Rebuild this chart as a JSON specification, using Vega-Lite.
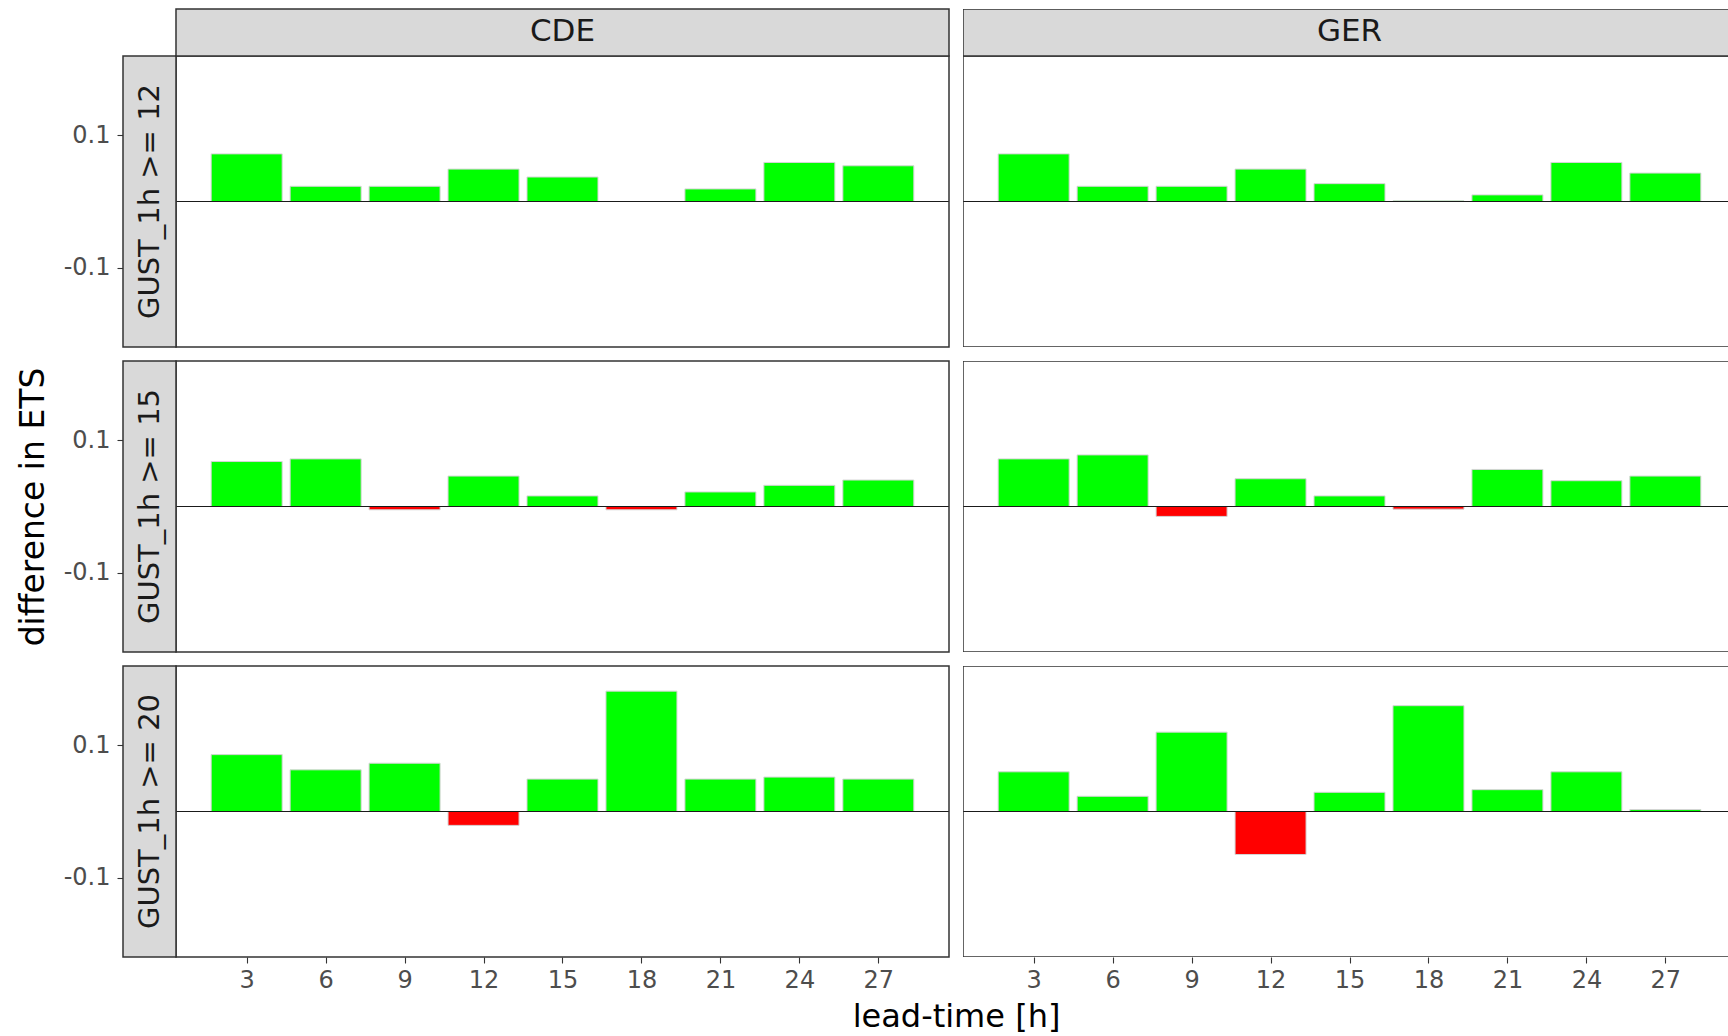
{
  "$schema": "https://vega.github.io/schema/vega-lite/v6.json",
  "padding": {"left": 16, "top": 8, "right": 0, "bottom": 0},
  "background": "white",
  "bounds": "flush",
  "columns": 2,
  "spacing": 14,
  "datasets": {
    "bars": [
      {"region": "CDE", "threshold": "GUST_1h >= 12", "lead": 3, "value": 0.072},
      {"region": "CDE", "threshold": "GUST_1h >= 12", "lead": 6, "value": 0.023},
      {"region": "CDE", "threshold": "GUST_1h >= 12", "lead": 9, "value": 0.023},
      {"region": "CDE", "threshold": "GUST_1h >= 12", "lead": 12, "value": 0.049},
      {"region": "CDE", "threshold": "GUST_1h >= 12", "lead": 15, "value": 0.037},
      {"region": "CDE", "threshold": "GUST_1h >= 12", "lead": 18, "value": 0.0},
      {"region": "CDE", "threshold": "GUST_1h >= 12", "lead": 21, "value": 0.019},
      {"region": "CDE", "threshold": "GUST_1h >= 12", "lead": 24, "value": 0.059},
      {"region": "CDE", "threshold": "GUST_1h >= 12", "lead": 27, "value": 0.054},
      {"region": "GER", "threshold": "GUST_1h >= 12", "lead": 3, "value": 0.072},
      {"region": "GER", "threshold": "GUST_1h >= 12", "lead": 6, "value": 0.023},
      {"region": "GER", "threshold": "GUST_1h >= 12", "lead": 9, "value": 0.023},
      {"region": "GER", "threshold": "GUST_1h >= 12", "lead": 12, "value": 0.049},
      {"region": "GER", "threshold": "GUST_1h >= 12", "lead": 15, "value": 0.027},
      {"region": "GER", "threshold": "GUST_1h >= 12", "lead": 18, "value": 0.001},
      {"region": "GER", "threshold": "GUST_1h >= 12", "lead": 21, "value": 0.010},
      {"region": "GER", "threshold": "GUST_1h >= 12", "lead": 24, "value": 0.059},
      {"region": "GER", "threshold": "GUST_1h >= 12", "lead": 27, "value": 0.043},
      {"region": "CDE", "threshold": "GUST_1h >= 15", "lead": 3, "value": 0.068},
      {"region": "CDE", "threshold": "GUST_1h >= 15", "lead": 6, "value": 0.072},
      {"region": "CDE", "threshold": "GUST_1h >= 15", "lead": 9, "value": -0.005},
      {"region": "CDE", "threshold": "GUST_1h >= 15", "lead": 12, "value": 0.046},
      {"region": "CDE", "threshold": "GUST_1h >= 15", "lead": 15, "value": 0.016},
      {"region": "CDE", "threshold": "GUST_1h >= 15", "lead": 18, "value": -0.005},
      {"region": "CDE", "threshold": "GUST_1h >= 15", "lead": 21, "value": 0.022},
      {"region": "CDE", "threshold": "GUST_1h >= 15", "lead": 24, "value": 0.032},
      {"region": "CDE", "threshold": "GUST_1h >= 15", "lead": 27, "value": 0.040},
      {"region": "GER", "threshold": "GUST_1h >= 15", "lead": 3, "value": 0.072},
      {"region": "GER", "threshold": "GUST_1h >= 15", "lead": 6, "value": 0.078},
      {"region": "GER", "threshold": "GUST_1h >= 15", "lead": 9, "value": -0.015},
      {"region": "GER", "threshold": "GUST_1h >= 15", "lead": 12, "value": 0.042},
      {"region": "GER", "threshold": "GUST_1h >= 15", "lead": 15, "value": 0.016},
      {"region": "GER", "threshold": "GUST_1h >= 15", "lead": 18, "value": -0.004},
      {"region": "GER", "threshold": "GUST_1h >= 15", "lead": 21, "value": 0.056},
      {"region": "GER", "threshold": "GUST_1h >= 15", "lead": 24, "value": 0.039},
      {"region": "GER", "threshold": "GUST_1h >= 15", "lead": 27, "value": 0.046},
      {"region": "CDE", "threshold": "GUST_1h >= 20", "lead": 3, "value": 0.086},
      {"region": "CDE", "threshold": "GUST_1h >= 20", "lead": 6, "value": 0.063},
      {"region": "CDE", "threshold": "GUST_1h >= 20", "lead": 9, "value": 0.073},
      {"region": "CDE", "threshold": "GUST_1h >= 20", "lead": 12, "value": -0.021},
      {"region": "CDE", "threshold": "GUST_1h >= 20", "lead": 15, "value": 0.049},
      {"region": "CDE", "threshold": "GUST_1h >= 20", "lead": 18, "value": 0.182},
      {"region": "CDE", "threshold": "GUST_1h >= 20", "lead": 21, "value": 0.049},
      {"region": "CDE", "threshold": "GUST_1h >= 20", "lead": 24, "value": 0.052},
      {"region": "CDE", "threshold": "GUST_1h >= 20", "lead": 27, "value": 0.049},
      {"region": "GER", "threshold": "GUST_1h >= 20", "lead": 3, "value": 0.060},
      {"region": "GER", "threshold": "GUST_1h >= 20", "lead": 6, "value": 0.023},
      {"region": "GER", "threshold": "GUST_1h >= 20", "lead": 9, "value": 0.120},
      {"region": "GER", "threshold": "GUST_1h >= 20", "lead": 12, "value": -0.065},
      {"region": "GER", "threshold": "GUST_1h >= 20", "lead": 15, "value": 0.029},
      {"region": "GER", "threshold": "GUST_1h >= 20", "lead": 18, "value": 0.160},
      {"region": "GER", "threshold": "GUST_1h >= 20", "lead": 21, "value": 0.033},
      {"region": "GER", "threshold": "GUST_1h >= 20", "lead": 24, "value": 0.060},
      {"region": "GER", "threshold": "GUST_1h >= 20", "lead": 27, "value": 0.003}
    ]
  },
  "concat": [
    {
      "width": 826, "height": 338,
      "layer": [
        {
          "data": {"name": "bars"},
          "transform": [{"filter": "datum.region === 'CDE' && datum.threshold === 'GUST_1h >= 12'"}],
          "mark": {"type": "bar", "width": 71, "stroke": "#D5D5D5", "strokeWidth": 1},
          "encoding": {
            "x": {"field": "lead", "type": "quantitative", "scale": {"domain": [-1.6987, 29.685], "nice": false, "zero": false, "padding": 0}, "axis": null},
            "y": {"field": "value", "type": "quantitative", "scale": {"domain": [-0.22, 0.29107], "nice": false, "zero": false, "padding": 0}, "axis": {"values": [-0.1, 0.1], "format": ".1f", "labelExpr": "replace(datum.label, '\u2212', '-')", "title": null}},
            "y2": {"datum": 0},
            "color": {"condition": {"test": "datum.value < 0", "value": "#FF0000"}, "value": "#00FF00"}
          }
        },
        {
          "data": {"values": [{}]},
          "mark": {"type": "rule", "color": "#1A1A1A", "strokeWidth": 1.2},
          "encoding": {"x": {"datum": 0.315, "type": "quantitative", "axis": null}, "x2": {"datum": 29.685}, "y": {"datum": 0, "type": "quantitative"}}
        },
        {
          "data": {"values": [{}]},
          "mark": {"type": "rect", "filled": false, "stroke": "#333333", "strokeWidth": 1.5},
          "encoding": {"x": {"datum": 0.315, "type": "quantitative", "axis": null}, "x2": {"datum": 29.685}, "y": {"datum": -0.22, "type": "quantitative"}, "y2": {"datum": 0.22}}
        },
        {
          "data": {"values": [{}]},
          "mark": {"type": "rect", "fill": "#D9D9D9", "stroke": "#333333", "strokeWidth": 1.5},
          "encoding": {"x": {"datum": -1.6987, "type": "quantitative", "axis": null}, "x2": {"datum": 0.315}, "y": {"datum": -0.22, "type": "quantitative"}, "y2": {"datum": 0.22}}
        },
        {
          "data": {"values": [{"label": "GUST_1h >= 12"}]},
          "mark": {"type": "text", "angle": 270, "align": "center", "baseline": "middle", "fontSize": 29, "font": "DejaVu Sans", "color": "#1A1A1A"},
          "encoding": {"x": {"datum": -0.6918, "type": "quantitative", "axis": null}, "y": {"datum": 0, "type": "quantitative"}, "text": {"field": "label"}}
        },
        {
          "data": {"values": [{}]},
          "mark": {"type": "rect", "fill": "#D9D9D9", "stroke": "#333333", "strokeWidth": 1.5},
          "encoding": {"x": {"datum": 0.315, "type": "quantitative", "axis": null}, "x2": {"datum": 29.685}, "y": {"datum": 0.22, "type": "quantitative"}, "y2": {"datum": 0.29107}}
        },
        {
          "data": {"values": [{"label": "CDE"}]},
          "mark": {"type": "text", "align": "center", "baseline": "middle", "fontSize": 31, "font": "DejaVu Sans", "color": "#1A1A1A"},
          "encoding": {"x": {"datum": 15, "type": "quantitative", "axis": null}, "y": {"datum": 0.25554, "type": "quantitative"}, "text": {"field": "label"}}
        }
      ]
    },
    {
      "width": 766, "height": 338,
      "layer": [
        {
          "data": {"name": "bars"},
          "transform": [{"filter": "datum.region === 'GER' && datum.threshold === 'GUST_1h >= 12'"}],
          "mark": {"type": "bar", "width": 71, "stroke": "#D5D5D5", "strokeWidth": 1},
          "encoding": {
            "x": {"field": "lead", "type": "quantitative", "scale": {"domain": [0.315, 29.418], "nice": false, "zero": false, "padding": 0}, "axis": null},
            "y": {"field": "value", "type": "quantitative", "scale": {"domain": [-0.22, 0.29107], "nice": false, "zero": false, "padding": 0}, "axis": null},
            "y2": {"datum": 0},
            "color": {"condition": {"test": "datum.value < 0", "value": "#FF0000"}, "value": "#00FF00"}
          }
        },
        {
          "data": {"values": [{}]},
          "mark": {"type": "rule", "color": "#1A1A1A", "strokeWidth": 1.2},
          "encoding": {"x": {"datum": 0.315, "type": "quantitative", "axis": null}, "x2": {"datum": 29.418}, "y": {"datum": 0, "type": "quantitative", "axis": null}}
        },
        {
          "data": {"values": [{}]},
          "mark": {"type": "rect", "filled": false, "stroke": "#333333", "strokeWidth": 1.5, "clip": true},
          "encoding": {"x": {"datum": 0.315, "type": "quantitative", "axis": null}, "x2": {"datum": 29.685}, "y": {"datum": -0.22, "type": "quantitative", "axis": null}, "y2": {"datum": 0.22}}
        },
        {
          "data": {"values": [{}]},
          "mark": {"type": "rect", "fill": "#D9D9D9", "stroke": "#333333", "strokeWidth": 1.5, "clip": true},
          "encoding": {"x": {"datum": 0.315, "type": "quantitative", "axis": null}, "x2": {"datum": 29.685}, "y": {"datum": 0.22, "type": "quantitative", "axis": null}, "y2": {"datum": 0.29107}}
        },
        {
          "data": {"values": [{"label": "GER"}]},
          "mark": {"type": "text", "align": "center", "baseline": "middle", "fontSize": 31, "font": "DejaVu Sans", "color": "#1A1A1A"},
          "encoding": {"x": {"datum": 15, "type": "quantitative", "axis": null}, "y": {"datum": 0.25554, "type": "quantitative", "axis": null}, "text": {"field": "label"}}
        }
      ]
    },
    {
      "width": 826, "height": 291,
      "layer": [
        {
          "data": {"name": "bars"},
          "transform": [{"filter": "datum.region === 'CDE' && datum.threshold === 'GUST_1h >= 15'"}],
          "mark": {"type": "bar", "width": 71, "stroke": "#D5D5D5", "strokeWidth": 1},
          "encoding": {
            "x": {"field": "lead", "type": "quantitative", "scale": {"domain": [-1.6987, 29.685], "nice": false, "zero": false, "padding": 0}, "axis": null},
            "y": {"field": "value", "type": "quantitative", "scale": {"domain": [-0.22, 0.22], "nice": false, "zero": false, "padding": 0}, "axis": {"values": [-0.1, 0.1], "format": ".1f", "labelExpr": "replace(datum.label, '\u2212', '-')", "title": "difference in ETS", "titleX": -80, "titleBaseline": "alphabetic", "titleAngle": -90, "titleFontSize": 33}},
            "y2": {"datum": 0},
            "color": {"condition": {"test": "datum.value < 0", "value": "#FF0000"}, "value": "#00FF00"}
          }
        },
        {
          "data": {"values": [{}]},
          "mark": {"type": "rule", "color": "#1A1A1A", "strokeWidth": 1.2},
          "encoding": {"x": {"datum": 0.315, "type": "quantitative", "axis": null}, "x2": {"datum": 29.685}, "y": {"datum": 0, "type": "quantitative"}}
        },
        {
          "data": {"values": [{}]},
          "mark": {"type": "rect", "filled": false, "stroke": "#333333", "strokeWidth": 1.5},
          "encoding": {"x": {"datum": 0.315, "type": "quantitative", "axis": null}, "x2": {"datum": 29.685}, "y": {"datum": -0.22, "type": "quantitative"}, "y2": {"datum": 0.22}}
        },
        {
          "data": {"values": [{}]},
          "mark": {"type": "rect", "fill": "#D9D9D9", "stroke": "#333333", "strokeWidth": 1.5},
          "encoding": {"x": {"datum": -1.6987, "type": "quantitative", "axis": null}, "x2": {"datum": 0.315}, "y": {"datum": -0.22, "type": "quantitative"}, "y2": {"datum": 0.22}}
        },
        {
          "data": {"values": [{"label": "GUST_1h >= 15"}]},
          "mark": {"type": "text", "angle": 270, "align": "center", "baseline": "middle", "fontSize": 29, "font": "DejaVu Sans", "color": "#1A1A1A"},
          "encoding": {"x": {"datum": -0.6918, "type": "quantitative", "axis": null}, "y": {"datum": 0, "type": "quantitative"}, "text": {"field": "label"}}
        }
      ]
    },
    {
      "width": 766, "height": 291,
      "layer": [
        {
          "data": {"name": "bars"},
          "transform": [{"filter": "datum.region === 'GER' && datum.threshold === 'GUST_1h >= 15'"}],
          "mark": {"type": "bar", "width": 71, "stroke": "#D5D5D5", "strokeWidth": 1},
          "encoding": {
            "x": {"field": "lead", "type": "quantitative", "scale": {"domain": [0.315, 29.418], "nice": false, "zero": false, "padding": 0}, "axis": null},
            "y": {"field": "value", "type": "quantitative", "scale": {"domain": [-0.22, 0.22], "nice": false, "zero": false, "padding": 0}, "axis": null},
            "y2": {"datum": 0},
            "color": {"condition": {"test": "datum.value < 0", "value": "#FF0000"}, "value": "#00FF00"}
          }
        },
        {
          "data": {"values": [{}]},
          "mark": {"type": "rule", "color": "#1A1A1A", "strokeWidth": 1.2},
          "encoding": {"x": {"datum": 0.315, "type": "quantitative", "axis": null}, "x2": {"datum": 29.418}, "y": {"datum": 0, "type": "quantitative", "axis": null}}
        },
        {
          "data": {"values": [{}]},
          "mark": {"type": "rect", "filled": false, "stroke": "#333333", "strokeWidth": 1.5, "clip": true},
          "encoding": {"x": {"datum": 0.315, "type": "quantitative", "axis": null}, "x2": {"datum": 29.685}, "y": {"datum": -0.22, "type": "quantitative", "axis": null}, "y2": {"datum": 0.22}}
        }
      ]
    },
    {
      "width": 826, "height": 291,
      "layer": [
        {
          "data": {"name": "bars"},
          "transform": [{"filter": "datum.region === 'CDE' && datum.threshold === 'GUST_1h >= 20'"}],
          "mark": {"type": "bar", "width": 71, "stroke": "#D5D5D5", "strokeWidth": 1},
          "encoding": {
            "x": {"field": "lead", "type": "quantitative", "scale": {"domain": [-1.6987, 29.685], "nice": false, "zero": false, "padding": 0}, "axis": {"values": [3, 6, 9, 12, 15, 18, 21, 24, 27], "title": "lead-time [h]", "titleX": 833, "titleY": 69, "titleAlign": "center", "titleBaseline": "alphabetic"}},
            "y": {"field": "value", "type": "quantitative", "scale": {"domain": [-0.22, 0.22], "nice": false, "zero": false, "padding": 0}, "axis": {"values": [-0.1, 0.1], "format": ".1f", "labelExpr": "replace(datum.label, '\u2212', '-')", "title": null}},
            "y2": {"datum": 0},
            "color": {"condition": {"test": "datum.value < 0", "value": "#FF0000"}, "value": "#00FF00"}
          }
        },
        {
          "data": {"values": [{}]},
          "mark": {"type": "rule", "color": "#1A1A1A", "strokeWidth": 1.2},
          "encoding": {"x": {"datum": 0.315, "type": "quantitative"}, "x2": {"datum": 29.685}, "y": {"datum": 0, "type": "quantitative"}}
        },
        {
          "data": {"values": [{}]},
          "mark": {"type": "rect", "filled": false, "stroke": "#333333", "strokeWidth": 1.5},
          "encoding": {"x": {"datum": 0.315, "type": "quantitative"}, "x2": {"datum": 29.685}, "y": {"datum": -0.22, "type": "quantitative"}, "y2": {"datum": 0.22}}
        },
        {
          "data": {"values": [{}]},
          "mark": {"type": "rect", "fill": "#D9D9D9", "stroke": "#333333", "strokeWidth": 1.5},
          "encoding": {"x": {"datum": -1.6987, "type": "quantitative"}, "x2": {"datum": 0.315}, "y": {"datum": -0.22, "type": "quantitative"}, "y2": {"datum": 0.22}}
        },
        {
          "data": {"values": [{"label": "GUST_1h >= 20"}]},
          "mark": {"type": "text", "angle": 270, "align": "center", "baseline": "middle", "fontSize": 29, "font": "DejaVu Sans", "color": "#1A1A1A"},
          "encoding": {"x": {"datum": -0.6918, "type": "quantitative"}, "y": {"datum": 0, "type": "quantitative"}, "text": {"field": "label"}}
        }
      ]
    },
    {
      "width": 766, "height": 291,
      "layer": [
        {
          "data": {"name": "bars"},
          "transform": [{"filter": "datum.region === 'GER' && datum.threshold === 'GUST_1h >= 20'"}],
          "mark": {"type": "bar", "width": 71, "stroke": "#D5D5D5", "strokeWidth": 1},
          "encoding": {
            "x": {"field": "lead", "type": "quantitative", "scale": {"domain": [0.315, 29.418], "nice": false, "zero": false, "padding": 0}, "axis": {"values": [3, 6, 9, 12, 15, 18, 21, 24, 27], "title": null}},
            "y": {"field": "value", "type": "quantitative", "scale": {"domain": [-0.22, 0.22], "nice": false, "zero": false, "padding": 0}, "axis": null},
            "y2": {"datum": 0},
            "color": {"condition": {"test": "datum.value < 0", "value": "#FF0000"}, "value": "#00FF00"}
          }
        },
        {
          "data": {"values": [{}]},
          "mark": {"type": "rule", "color": "#1A1A1A", "strokeWidth": 1.2},
          "encoding": {"x": {"datum": 0.315, "type": "quantitative"}, "x2": {"datum": 29.418}, "y": {"datum": 0, "type": "quantitative", "axis": null}}
        },
        {
          "data": {"values": [{}]},
          "mark": {"type": "rect", "filled": false, "stroke": "#333333", "strokeWidth": 1.5, "clip": true},
          "encoding": {"x": {"datum": 0.315, "type": "quantitative"}, "x2": {"datum": 29.685}, "y": {"datum": -0.22, "type": "quantitative", "axis": null}, "y2": {"datum": 0.22}}
        }
      ]
    }
  ],
  "config": {
    "view": {"stroke": null},
    "font": "DejaVu Sans",
    "axis": {
      "labelFont": "DejaVu Sans",
      "titleFont": "DejaVu Sans",
      "grid": false,
      "domain": false,
      "ticks": true,
      "tickColor": "#333333",
      "tickSize": 6,
      "tickWidth": 1.1,
      "labelColor": "#4D4D4D",
      "labelFontSize": 24,
      "labelPadding": 7,
      "titleFontSize": 32,
      "titleColor": "#000000",
      "titleFontWeight": "normal"
    },
    "axisBottom": {"labelPadding": 5}
  }
}
